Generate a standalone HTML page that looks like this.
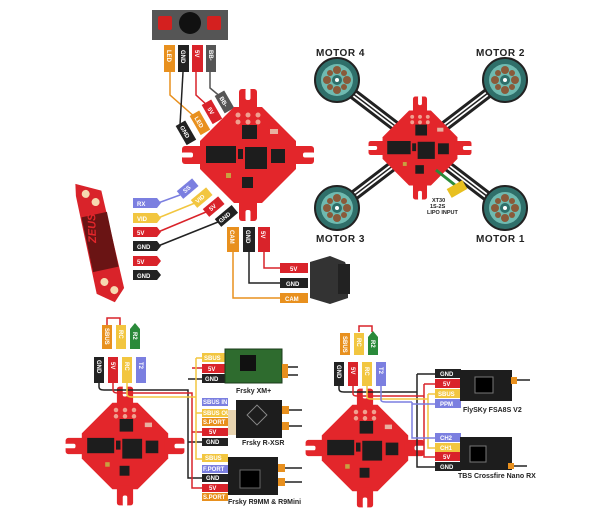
<!DOCTYPE html>
<html><head><meta charset="utf-8"><style>
html,body{margin:0;padding:0;background:#fff}
svg{display:block}
text{font-family:"Liberation Sans",sans-serif;font-weight:bold}
.t{fill:#fff;font-size:6px}
.l{fill:#222;font-size:7px}
.m{fill:#222;font-size:10px;letter-spacing:0.5px}
</style></head><body>
<svg width="600" height="528" viewBox="0 0 600 528" xmlns="http://www.w3.org/2000/svg">
<defs>
<g id="fc">
  <g fill="#e3262b">
    <polygon points="-14,-48 14,-48 48,-14 48,14 14,48 -14,48 -48,14 -48,-14"/>
    <rect x="-9" y="-66" width="18" height="22" rx="3"/>
    <rect x="-9" y="44" width="18" height="22" rx="3"/>
    <rect x="-66" y="-9" width="22" height="18" rx="3"/>
    <rect x="44" y="-9" width="22" height="18" rx="3"/>
  </g>
  <g fill="#fff">
    <rect x="-2.5" y="-67" width="5" height="12" rx="2"/>
    <rect x="-2.5" y="55" width="5" height="12" rx="2"/>
    <rect x="-67" y="-2.5" width="12" height="5" rx="2"/>
    <rect x="55" y="-2.5" width="12" height="5" rx="2"/>
  </g>
  <g fill="#f0a090">
    <circle cx="-10" cy="-40" r="2.5"/><circle cx="0" cy="-40" r="2.5"/><circle cx="10" cy="-40" r="2.5"/>
    <circle cx="-10" cy="-33" r="2.5"/><circle cx="0" cy="-33" r="2.5"/><circle cx="10" cy="-33" r="2.5"/>
  </g>
  <g fill="#1d1d1d">
    <rect x="-42" y="-9" width="30" height="17"/>
    <rect x="-3" y="-8" width="22" height="22"/>
    <rect x="-6" y="-30" width="15" height="14"/>
    <rect x="23" y="-6" width="14" height="14"/>
    <rect x="-6" y="22" width="11" height="11"/>
    <rect x="-10" y="-6" width="5" height="10"/>
  </g>
  <rect x="-22" y="18" width="5" height="5" fill="#c8a040"/>
  <rect x="22" y="-26" width="8" height="5" fill="#e8b0a0"/>
</g>
<g id="mot">
  <circle r="22" fill="#2f6f6a" stroke="#222" stroke-width="2"/>
  <circle r="16" fill="#6fbab0"/>
  <g fill="#8a5a3a"><circle cx="0" cy="-10" r="4"/><circle cx="0" cy="10" r="4"/><circle cx="-10" cy="0" r="4"/><circle cx="10" cy="0" r="4"/><circle cx="7" cy="7" r="3"/><circle cx="-7" cy="-7" r="3"/><circle cx="7" cy="-7" r="3"/><circle cx="-7" cy="7" r="3"/></g>
  <circle r="5" fill="#2f6f6a"/><circle r="2" fill="#fff"/>
</g>
</defs>

<!-- ===== TOP LEFT: FC with buzzer/VTX/camera ===== -->
<!-- buzzer -->
<rect x="152" y="10" width="76" height="30" fill="#555"/>
<rect x="158" y="16" width="14" height="14" fill="#d4201f" rx="2"/>
<rect x="207" y="16" width="14" height="14" fill="#d4201f" rx="2"/>
<circle cx="190" cy="23" r="11" fill="#111"/>
<!-- wires -->
<g fill="none" stroke-width="1.5">
<path d="M170,72 V95 L196,118" stroke="#e8901e"/>
<path d="M183,72 L180,125" stroke="#222"/>
<path d="M196,72 V95 L208,106" stroke="#d9232a"/>
<path d="M210,72 V88 L222,98" stroke="#555"/>
</g>
<g>
<rect x="164" y="45" width="11" height="27" fill="#e8901e"/>
<rect x="178" y="45" width="11" height="27" fill="#222"/>
<rect x="192" y="45" width="11" height="27" fill="#d9232a"/>
<rect x="206" y="45" width="10" height="27" fill="#555"/>
<text class="t" transform="translate(167,50) rotate(90)">LED</text>
<text class="t" transform="translate(181,50) rotate(90)">GND</text>
<text class="t" transform="translate(195,50) rotate(90)">5V</text>
<text class="t" transform="translate(209,50) rotate(90)">BB-</text>
</g>
<g transform="translate(182,127) rotate(60)"><rect x="-4" y="-6" width="22" height="11" fill="#222"/><text class="t" x="-1" y="2">GND</text></g>
<g transform="translate(196,117) rotate(60)"><rect x="-4" y="-6" width="22" height="11" fill="#e8901e"/><text class="t" x="0" y="2">LED</text></g>
<g transform="translate(208,106) rotate(60)"><rect x="-4" y="-6" width="22" height="11" fill="#d9232a"/><text class="t" x="2" y="2">5V</text></g>
<g transform="translate(221,97) rotate(60)"><rect x="-4" y="-6" width="20" height="11" fill="#555"/><text class="t" x="0" y="2">BB-</text></g>

<use href="#fc" transform="translate(248,155)"/>

<!-- VTX -->
<g transform="translate(100,242) rotate(-12)">
<polygon points="-12,-62 12,-50 14,50 2,62 -14,50 -14,-50" fill="#d9232a"/>
<rect x="-13" y="-28" width="26" height="56" fill="#6a1414"/>
<text x="-4" y="0" transform="rotate(-80 -4 0)" fill="#e3262b" font-size="11" font-style="italic">ZEUS</text>
<circle cx="-4" cy="-50" r="4" fill="#f6d9b0"/><circle cx="4" cy="-40" r="4" fill="#f6d9b0"/>
<circle cx="-4" cy="40" r="4" fill="#f6d9b0"/><circle cx="4" cy="50" r="4" fill="#f6d9b0"/>
</g>
<g fill="none" stroke-width="1.5">
<path d="M158,203 L180,195" stroke="#7b7fe0"/>
<path d="M158,218 L195,203" stroke="#f2c640"/>
<path d="M158,232 L206,212" stroke="#d9232a"/>
<path d="M158,246 L218,222" stroke="#222"/>
</g>
<g>
<polygon points="133,198 157,198 161,203 157,208 133,208" fill="#7b7fe0"/><text class="t" x="137" y="206">RX</text>
<polygon points="133,213 157,213 161,218 157,223 133,223" fill="#f2c640"/><text class="t" x="137" y="221">VID</text>
<polygon points="133,227 157,227 161,232 157,237 133,237" fill="#d9232a"/><text class="t" x="137" y="235">5V</text>
<polygon points="133,241 157,241 161,246 157,251 133,251" fill="#222"/><text class="t" x="137" y="249">GND</text>
<polygon points="133,256 157,256 161,261 157,266 133,266" fill="#d9232a"/><text class="t" x="137" y="264">5V</text>
<polygon points="133,270 157,270 161,275 157,280 133,280" fill="#222"/><text class="t" x="137" y="278">GND</text>
</g>
<g transform="translate(180,195) rotate(-40)"><rect x="0" y="-5" width="20" height="10" fill="#7b7fe0"/><text class="t" x="5" y="2">SS</text></g>
<g transform="translate(194,204) rotate(-40)"><rect x="0" y="-5" width="20" height="10" fill="#f2c640"/><text class="t" x="3" y="2">VID</text></g>
<g transform="translate(206,213) rotate(-40)"><rect x="0" y="-5" width="20" height="10" fill="#d9232a"/><text class="t" x="5" y="2">5V</text></g>
<g transform="translate(218,223) rotate(-40)"><rect x="0" y="-5" width="22" height="10" fill="#222"/><text class="t" x="2" y="2">GND</text></g>

<!-- camera wires -->
<g fill="none" stroke-width="1.5">
<path d="M233,252 V298 H282" stroke="#e8901e"/>
<path d="M249,252 V283 H282" stroke="#222"/>
<path d="M264,252 V268 H282" stroke="#d9232a"/>
</g>
<rect x="227" y="227" width="12" height="25" fill="#e8901e"/><text class="t" transform="translate(230,230) rotate(90)">CAM</text>
<rect x="243" y="227" width="12" height="25" fill="#222"/><text class="t" transform="translate(246,230) rotate(90)">GND</text>
<rect x="258" y="227" width="12" height="25" fill="#d9232a"/><text class="t" transform="translate(261,231) rotate(90)">5V</text>
<rect x="280" y="263" width="28" height="10" fill="#d9232a"/><text class="t" x="290" y="271">5V</text>
<rect x="280" y="278" width="28" height="10" fill="#222"/><text class="t" x="286" y="286">GND</text>
<rect x="280" y="293" width="28" height="10" fill="#e8901e"/><text class="t" x="285" y="301">CAM</text>
<polygon points="310,262 330,256 345,262 348,270 348,298 330,304 310,298" fill="#333"/>
<rect x="338" y="264" width="12" height="30" fill="#222"/>

<!-- ===== QUAD ===== -->
<g stroke-linecap="round">
<line x1="335" y1="80" x2="505" y2="210" stroke="#222" stroke-width="11"/>
<line x1="505" y1="80" x2="335" y2="210" stroke="#222" stroke-width="11"/>
<line x1="335" y1="80" x2="505" y2="210" stroke="#fff" stroke-width="5"/>
<line x1="505" y1="80" x2="335" y2="210" stroke="#fff" stroke-width="5"/>
<line x1="335" y1="80" x2="505" y2="210" stroke="#222" stroke-width="1.5"/>
<line x1="505" y1="80" x2="335" y2="210" stroke="#222" stroke-width="1.5"/>
</g>
<use href="#mot" transform="translate(337,80)"/>
<use href="#mot" transform="translate(505,80)"/>
<use href="#mot" transform="translate(337,208)"/>
<use href="#mot" transform="translate(505,208)"/>
<use href="#fc" transform="translate(420,148) scale(0.78)"/>
<path d="M436,170 L455,185" stroke="#2a8a3a" stroke-width="3"/>
<rect x="448" y="184" width="18" height="10" fill="#e8c020" transform="rotate(-30 457 189)"/>
<text x="432" y="202" font-size="5.5" fill="#222">XT30</text>
<text x="430" y="208" font-size="5.5" fill="#222">1S-2S</text>
<text x="427" y="214" font-size="5.5" fill="#222">LIPO INPUT</text>
<text class="m" x="316" y="56">MOTOR 4</text>
<text class="m" x="476" y="56">MOTOR 2</text>
<text class="m" x="316" y="242">MOTOR 3</text>
<text class="m" x="476" y="242">MOTOR 1</text>

<!-- ===== BOTTOM LEFT ===== -->
<use href="#fc" transform="translate(125,446) scale(0.9)"/>
<path d="M107,325 V318 H120 V325" fill="none" stroke="#d9232a" stroke-width="1.5"/>
<g>
<rect x="102" y="325" width="10" height="24" fill="#e8901e"/><text class="t" transform="translate(105,328) rotate(90)">SBUS</text>
<rect x="116" y="325" width="10" height="24" fill="#f2c640"/><text class="t" transform="translate(119,330) rotate(90)">RC</text>
<polygon points="130,329 135,323 140,329 140,349 130,349" fill="#2a8a3a"/><text class="t" transform="translate(133,332) rotate(90)">R2</text>
<rect x="94" y="357" width="10" height="26" fill="#222"/><text class="t" transform="translate(97,360) rotate(90)">GND</text>
<rect x="108" y="357" width="10" height="26" fill="#d9232a"/><text class="t" transform="translate(111,362) rotate(90)">5V</text>
<rect x="122" y="357" width="10" height="26" fill="#f2c640"/><text class="t" transform="translate(125,362) rotate(90)">RC</text>
<rect x="136" y="357" width="10" height="26" fill="#7b7fe0"/><text class="t" transform="translate(139,362) rotate(90)">T2</text>
</g>
<g fill="none" stroke-width="1.5">
<path d="M99,383 V387 Q99,390 104,390 H188 V478 H205 M188,379 H205 M188,442 H205" stroke="#222"/>
<path d="M113,383 V390 Q113,393 118,393 H192 V488 H205 M192,368 H205 M192,432 H205" stroke="#d9232a"/>
<path d="M127,383 V394 Q127,397 132,397 H196 M196,358 V459 H205 M196,358 H205 M196,413 H205" stroke="#f2c640"/>
</g>
<g>
<rect x="202" y="353" width="24" height="9" fill="#f2c640"/><text class="t" x="204" y="360" font-size="5">SBUS</text>
<rect x="202" y="364" width="24" height="9" fill="#d9232a"/><text class="t" x="208" y="371">5V</text>
<rect x="202" y="374" width="24" height="9" fill="#222"/><text class="t" x="205" y="381">GND</text>
<rect x="202" y="398" width="26" height="8" fill="#7b7fe0"/><text class="t" x="203" y="404" font-size="4.5">SBUS IN</text>
<rect x="202" y="409" width="26" height="8" fill="#f2c640"/><text class="t" x="203" y="415" font-size="4">SBUS OUT</text>
<rect x="202" y="418" width="26" height="8" fill="#e8901e"/><text class="t" x="203" y="424" font-size="5">S.PORT</text>
<rect x="202" y="428" width="26" height="8" fill="#d9232a"/><text class="t" x="209" y="434">5V</text>
<rect x="202" y="438" width="26" height="8" fill="#222"/><text class="t" x="206" y="444">GND</text>
<rect x="202" y="454" width="26" height="8" fill="#f2c640"/><text class="t" x="205" y="460" font-size="5">SBUS</text>
<rect x="202" y="465" width="26" height="8" fill="#7b7fe0"/><text class="t" x="203" y="471" font-size="5">F.PORT</text>
<rect x="202" y="474" width="26" height="8" fill="#222"/><text class="t" x="206" y="480">GND</text>
<rect x="202" y="484" width="26" height="8" fill="#d9232a"/><text class="t" x="209" y="490">5V</text>
<rect x="202" y="493" width="26" height="8" fill="#e8901e"/><text class="t" x="203" y="499" font-size="5">S.PORT</text>
</g>
<rect x="225" y="349" width="57" height="34" fill="#2e6b2e" stroke="#1b3b1b"/>
<rect x="240" y="355" width="16" height="16" fill="#111"/>
<path d="M282,367 H298 M282,375 H298" stroke="#222" stroke-width="1.5"/>
<rect x="282" y="364" width="6" height="14" fill="#e8901e"/>
<text class="l" x="236" y="393">Frsky XM+</text>
<rect x="228" y="410" width="10" height="25" fill="#e8d4b0"/>
<rect x="236" y="400" width="46" height="38" fill="#1d1d1d"/>
<rect x="250" y="408" width="14" height="14" fill="none" stroke="#888" transform="rotate(45 257 415)"/>
<path d="M282,410 H302 M282,426 H302" stroke="#222" stroke-width="1.5"/>
<rect x="282" y="406" width="7" height="8" fill="#e8901e"/><rect x="282" y="422" width="7" height="8" fill="#e8901e"/>
<text class="l" x="242" y="445">Frsky R-XSR</text>
<rect x="228" y="457" width="50" height="38" fill="#1d1d1d"/>
<rect x="240" y="470" width="20" height="18" fill="#000" stroke="#666"/>
<path d="M278,468 H302 M278,482 H302" stroke="#222" stroke-width="1.5"/>
<rect x="278" y="464" width="7" height="8" fill="#e8901e"/><rect x="278" y="478" width="7" height="8" fill="#e8901e"/>
<text class="l" x="228" y="504">Frsky R9MM &amp; R9Mini</text>

<!-- ===== BOTTOM RIGHT ===== -->
<use href="#fc" transform="translate(365,448) scale(0.9)"/>
<path d="M359,332 V326 H372 V332" fill="none" stroke="#d9232a" stroke-width="1.5"/>
<g>
<rect x="340" y="333" width="10" height="22" fill="#e8901e"/><text class="t" transform="translate(343,336) rotate(90)">SBUS</text>
<rect x="354" y="333" width="10" height="22" fill="#f2c640"/><text class="t" transform="translate(357,338) rotate(90)">RC</text>
<polygon points="368,337 373,331 378,337 378,355 368,355" fill="#2a8a3a"/><text class="t" transform="translate(371,340) rotate(90)">R2</text>
<rect x="334" y="362" width="10" height="24" fill="#222"/><text class="t" transform="translate(337,365) rotate(90)">GND</text>
<rect x="348" y="362" width="10" height="24" fill="#d9232a"/><text class="t" transform="translate(351,367) rotate(90)">5V</text>
<rect x="362" y="362" width="10" height="24" fill="#f2c640"/><text class="t" transform="translate(365,367) rotate(90)">RC</text>
<rect x="376" y="362" width="10" height="24" fill="#7b7fe0"/><text class="t" transform="translate(379,367) rotate(90)">T2</text>
</g>
<g fill="none" stroke-width="1.5">
<path d="M339,386 V389 Q339,392 344,392 H417 M417,374 V467 H437 M417,374 H437" stroke="#222"/>
<path d="M353,386 V394 Q353,396 358,396 H424 M424,384 V457 H437 M424,384 H437" stroke="#d9232a"/>
<path d="M367,386 V397 Q367,399 372,399 H428 M428,394 V448 H437 M428,394 H437" stroke="#f2c640"/>
<path d="M381,386 V400 Q381,402 386,402 H412 M412,402 V404 H437 M412,402 V438 H437" stroke="#7b7fe0"/>
</g>
<g>
<rect x="435" y="369" width="26" height="9" fill="#222"/><text class="t" x="440" y="376">GND</text>
<rect x="435" y="379" width="26" height="9" fill="#d9232a"/><text class="t" x="443" y="386">5V</text>
<rect x="435" y="389" width="26" height="9" fill="#f2c640"/><text class="t" x="438" y="396">SBUS</text>
<rect x="435" y="399" width="26" height="9" fill="#7b7fe0"/><text class="t" x="440" y="406">PPM</text>
<rect x="435" y="433" width="26" height="9" fill="#7b7fe0"/><text class="t" x="440" y="440">CH2</text>
<rect x="435" y="443" width="26" height="9" fill="#f2c640"/><text class="t" x="440" y="450">CH1</text>
<rect x="435" y="452" width="26" height="9" fill="#d9232a"/><text class="t" x="443" y="459">5V</text>
<rect x="435" y="462" width="26" height="9" fill="#222"/><text class="t" x="440" y="469">GND</text>
</g>
<rect x="460" y="370" width="52" height="31" fill="#1d1d1d"/>
<rect x="475" y="377" width="18" height="16" fill="#000" stroke="#777"/>
<rect x="511" y="377" width="6" height="7" fill="#e8901e"/><path d="M517,380 H530" stroke="#222" stroke-width="1.5"/>
<text class="l" x="463" y="412" font-size="6.5">FlySKy FSA8S V2</text>
<rect x="460" y="437" width="52" height="33" fill="#1d1d1d"/>
<rect x="470" y="446" width="16" height="16" fill="#000" stroke="#777"/>
<rect x="508" y="463" width="6" height="6" fill="#e8901e"/><path d="M514,466 H527" stroke="#222" stroke-width="1.5"/>
<text class="l" x="458" y="478" font-size="6.5">TBS Crossfire Nano RX</text>
</svg>
</body></html>
